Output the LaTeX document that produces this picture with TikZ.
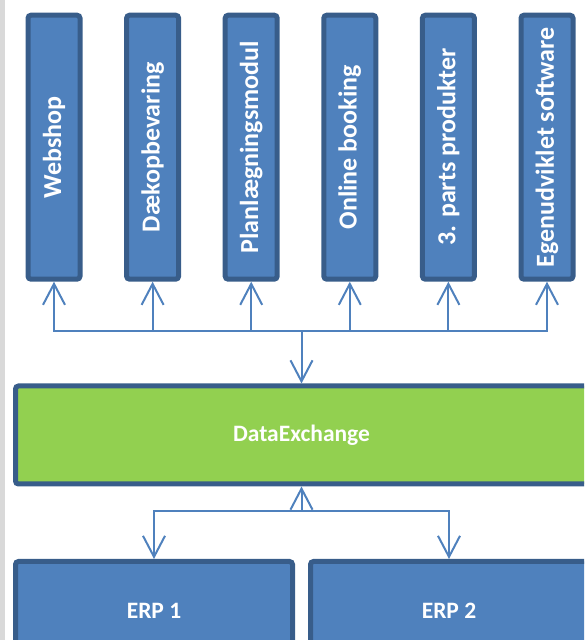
\documentclass[tikz,border=0pt]{standalone}
\usepackage{fontspec}
\setmainfont{Carlito}
\usepackage{tikz}
\usetikzlibrary{positioning,arrows.meta}

\definecolor{boxblue}{RGB}{79,129,189}
\definecolor{boxedge}{RGB}{56,93,138}
\definecolor{dxgreen}{RGB}{146,208,80}
\definecolor{stripgrey}{RGB}{217,217,217}

\begin{document}
\begin{tikzpicture}[x=1pt, y=1pt,
    >={Straight Barb[length=21pt,width=22pt]},
    every node/.style={font=\bfseries\fontsize{23.5}{27}\selectfont, text=white},
    topbox/.style={rectangle, rounded corners=3pt, draw=boxedge, fill=boxblue, line width=5pt,
        minimum width=52pt, minimum height=264pt, inner sep=0pt,
        font=\bfseries\fontsize{26}{30}\selectfont},
    erpbox/.style={rectangle, rounded corners=3pt, draw=boxedge, fill=boxblue, line width=5pt,
        minimum width=277pt, minimum height=98pt},
    conn/.style={draw=boxblue, line width=2pt}]
                \path[use as bounding box, clip] (0,0) rectangle (584,640);
                \fill[stripgrey] (0,0) rectangle (4.5,640);

                \node[topbox] (webshop) at (54,492.8) {\rotatebox{90}{Webshop}};
                \node[topbox, right=41.6pt of webshop] (daek) {\rotatebox{90}{Dækopbevaring}};
                \node[topbox, right=41.6pt of daek] (plan) {\rotatebox{90}{Planlægningsmodul}};
                \node[topbox, right=41.6pt of plan] (booking) {\rotatebox{90}{Online booking}};
                \node[topbox, right=41.6pt of booking] (parts) {\rotatebox{90}{3. parts produkter}};
                \node[topbox, right=41.6pt of parts] (egen) {\rotatebox{90}{Egenudviklet software}};

                \node[rectangle, rounded corners=3pt, draw=boxedge, fill=dxgreen, line width=5pt,
                    minimum width=572pt, minimum height=98pt] (dx) at (301.5,205) {DataExchange};

                \node[erpbox] (erp1) at (154,29.5) {ERP 1};
                \node[erpbox, right=13pt of erp1] (erp2) {ERP 2};

                \coordinate[above=52.5pt of dx.north] (topbus);
                \coordinate[below=25pt of dx.south] (botbus);

                \draw[conn, ->] (topbus) -- (dx.north);
                \draw[conn, ->] (topbus) -| (webshop.south);
                \draw[conn, ->] (topbus) -| (daek.south);
                \draw[conn, ->] (topbus) -| (plan.south);
                \draw[conn, ->] (topbus) -| (booking.south);
                \draw[conn, ->] (topbus) -| (parts.south);
                \draw[conn, ->] (topbus) -| (egen.south);

                \draw[conn, ->] (botbus) -- (dx.south);
                \draw[conn, ->] (botbus) -| (erp1.north);
                \draw[conn, ->] (botbus) -| (erp2.north);
            \end{tikzpicture}
\end{document}
